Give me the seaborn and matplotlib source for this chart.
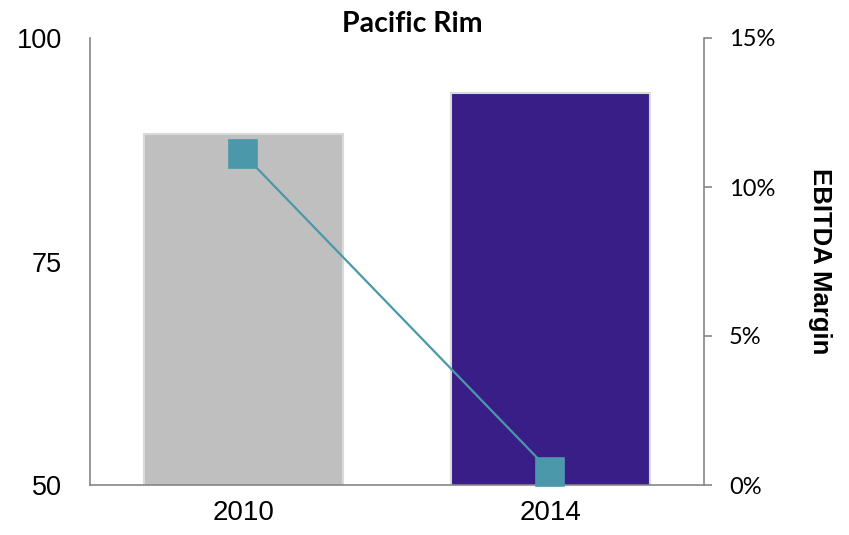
import matplotlib
matplotlib.use("Agg")
import matplotlib.pyplot as plt
import pandas as pd
import seaborn as sns
from matplotlib.ticker import FuncFormatter

years = ["2010", "2014"]
bar_values = [89.3, 93.8]
margin_pct = [11.1, 0.45]
bar_colors = ["#BFBFBF", "#391E87"]
line_color = "#4A98A9"

df = pd.DataFrame({"year": years, "value": bar_values, "margin": margin_pct})

sns.set_theme(style="white")
ARIAL = ["Liberation Sans", "DejaVu Sans"]
CALIBRI = ["Lato", "DejaVu Sans"]
plt.rcParams["font.family"] = ARIAL
plt.rcParams["text.color"] = "black"

fig = plt.figure(figsize=(8.49, 5.35), dpi=100)
ax = fig.add_axes([90 / 849, 50 / 535, 614 / 849, 447 / 535])

sns.barplot(data=df, x="year", y="value", hue="year", palette=bar_colors,
            saturation=1, width=0.65, legend=False, ax=ax,
            edgecolor="#D9D9D9", linewidth=1.5)
ax.set_ylim(50, 100)
ax.set_yticks([50, 75, 100])
ax.set_xlim(-0.5, 1.5)
ax.set_xlabel("")
ax.set_ylabel("")
ax.tick_params(axis="y", length=0, pad=20, labelsize=19.5, labelcolor="black")
ax.tick_params(axis="x", length=0, pad=11, labelsize=20, labelcolor="black")
for lab in ax.get_xticklabels() + ax.get_yticklabels():
    lab.set_family(ARIAL)
for s in ["top", "right"]:
    ax.spines[s].set_visible(False)
for s in ["left", "bottom"]:
    ax.spines[s].set_color("#868686")
    ax.spines[s].set_linewidth(1.2)

ax2 = ax.twinx()
sns.pointplot(data=df, x="year", y="margin", color=line_color, markers="s",
              markersize=20, linewidth=1.6, ax=ax2, errorbar=None)
for ln in ax2.lines:
    ln.set_clip_on(False)
ax2.set_ylim(0, 15)
ax2.set_yticks([0, 5, 10, 15])
ax2.yaxis.set_major_formatter(FuncFormatter(lambda v, p: f"{v:.0f}%"))
ax2.set_xlim(-0.5, 1.5)
ax2.set_xlabel("")
ax2.set_ylabel("EBITDA Margin", rotation=-90, fontsize=18.5, fontweight="bold",
               va="center", ha="center", family=ARIAL, color="black")
ax2.yaxis.set_label_coords((820 - 90) / 614, 0.5)
ax2.tick_params(axis="y", length=6, width=1.2, color="#868686", pad=12,
                labelsize=17, labelcolor="black")
for lab in ax2.get_yticklabels():
    lab.set_family(CALIBRI)
for s in ["top", "left", "bottom"]:
    ax2.spines[s].set_visible(False)
ax2.spines["right"].set_color("#868686")
ax2.spines["right"].set_linewidth(1.2)

fig.text(412 / 849, 1 - 24 / 535, "Pacific Rim", ha="center", va="center",
         fontsize=20.5, fontweight="bold", family=CALIBRI, color="black")

fig.savefig("out.png", dpi=100)
